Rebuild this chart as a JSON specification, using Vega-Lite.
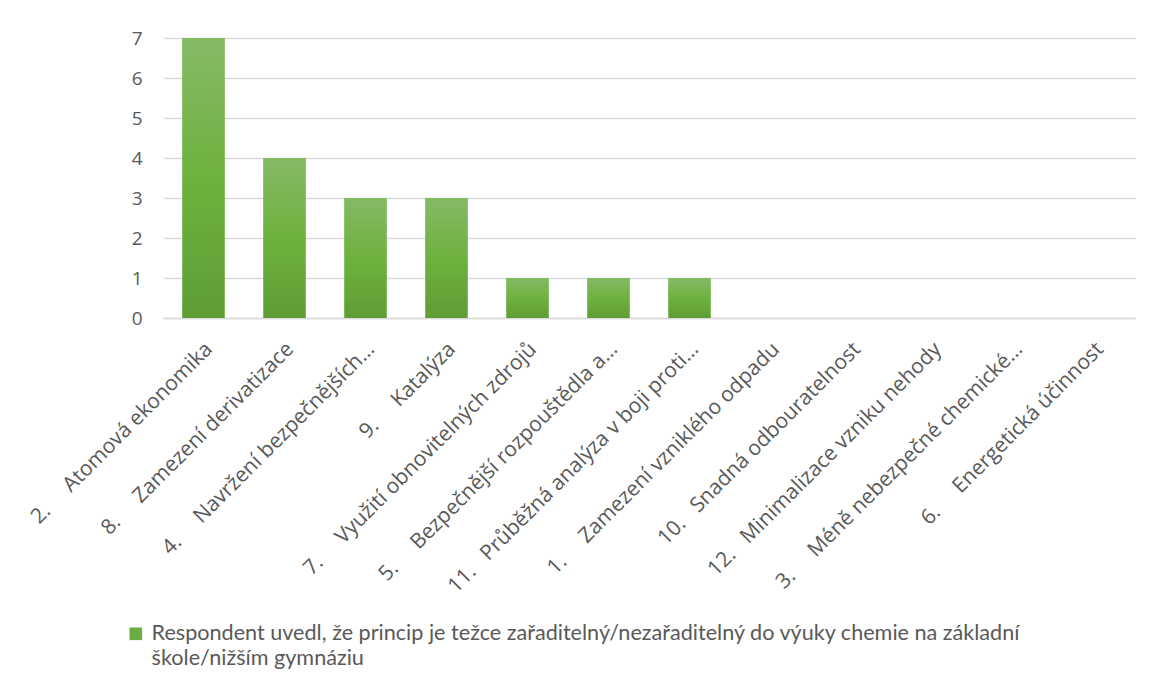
{
  "$schema": "https://vega.github.io/schema/vega-lite/v6.json",
  "width": 972,
  "height": 280,
  "autosize": {"type": "none"},
  "padding": {"left": 163, "top": 38, "right": 15, "bottom": 371},
  "background": "white",
  "config": {"view": {"stroke": null}, "style": {"guide-label": {"lineHeight": 25}}},
  "data": {
    "values": [
      {"princip": "2.\u00a0\u00a0\u00a0\u00a0\u00a0Atomová ekonomika", "pocet": 7, "serie": "Respondent"},
      {"princip": "8.\u00a0\u00a0\u00a0\u00a0\u00a0Zamezení derivatizace", "pocet": 4, "serie": "Respondent"},
      {"princip": "4.\u00a0\u00a0\u00a0\u00a0\u00a0Navržení bezpečnějších…", "pocet": 3, "serie": "Respondent"},
      {"princip": "9.\u00a0\u00a0\u00a0\u00a0\u00a0Katalýza", "pocet": 3, "serie": "Respondent"},
      {"princip": "7.\u00a0\u00a0\u00a0\u00a0\u00a0Využití obnovitelných zdrojů", "pocet": 1, "serie": "Respondent"},
      {"princip": "5.\u00a0\u00a0\u00a0\u00a0\u00a0Bezpečnější rozpouštědla a…", "pocet": 1, "serie": "Respondent"},
      {"princip": "11.\u00a0\u00a0\u00a0Průběžná analýza v boji proti…", "pocet": 1, "serie": "Respondent"},
      {"princip": "1.\u00a0\u00a0\u00a0\u00a0\u00a0Zamezení vzniklého odpadu", "pocet": 0, "serie": "Respondent"},
      {"princip": "10.\u00a0\u00a0\u00a0Snadná odbouratelnost", "pocet": 0, "serie": "Respondent"},
      {"princip": "12.\u00a0\u00a0\u00a0Minimalizace vzniku nehody", "pocet": 0, "serie": "Respondent"},
      {"princip": "3.\u00a0\u00a0\u00a0\u00a0\u00a0Méně nebezpečné chemické…", "pocet": 0, "serie": "Respondent"},
      {"princip": "6.\u00a0\u00a0\u00a0\u00a0\u00a0Energetická účinnost", "pocet": 0, "serie": "Respondent"}
    ]
  },
  "encoding": {
    "x": {
      "field": "princip",
      "type": "nominal",
      "sort": null,
      "scale": {"paddingInner": 0.48, "paddingOuter": 0.24},
      "axis": {
        "title": null,
        "labelAngle": -45,
        "labelFont": "Open Sans",
        "labelFontSize": 21,
        "labelColor": "#595959",
        "labelLimit": 500,
        "labelPadding": 20,
        "labelOffset": -2,
        "ticks": false,
        "domainColor": "#d9d9d9",
        "domainWidth": 1.3
      }
    },
    "y": {
      "field": "pocet",
      "type": "quantitative",
      "scale": {"domain": [0, 7], "nice": false},
      "axis": {
        "title": null,
        "values": [0, 1, 2, 3, 4, 5, 6, 7],
        "format": "d",
        "labelFont": "Open Sans",
        "labelFontSize": 19,
        "labelColor": "#595959",
        "labelPadding": 21,
        "ticks": false,
        "domain": false,
        "gridColor": "#d9d9d9",
        "gridWidth": 1.3
      }
    }
  },
  "layer": [
    {
      "mark": {"type": "bar"},
      "encoding": {
        "color": {
          "field": "serie",
          "type": "nominal",
          "scale": {"range": ["#6aae42"]},
          "legend": {
            "title": null,
            "orient": "none",
            "legendX": -38,
            "legendY": 585,
            "symbolType": "square",
            "symbolSize": 160,
            "symbolStrokeWidth": 0,
            "labelFont": "Lato",
            "labelFontSize": 21.6,
            "labelColor": "#595959",
            "labelLimit": 1000,
            "labelOffset": 5,
            "labelExpr": "['Respondent uvedl, že princip je težce zařaditelný/nezařaditelný do výuky chemie na základní', 'škole/nižším gymnáziu']"
          }
        }
      }
    },
    {
      "mark": {
        "type": "bar",
        "fill": {
          "gradient": "linear",
          "x1": 0, "y1": 0, "x2": 0, "y2": 1,
          "stops": [
            {"offset": 0, "color": "#86ba66"},
            {"offset": 0.5, "color": "#6db23e"},
            {"offset": 1, "color": "#5e9e35"}
          ]
        }
      }
    }
  ]
}
